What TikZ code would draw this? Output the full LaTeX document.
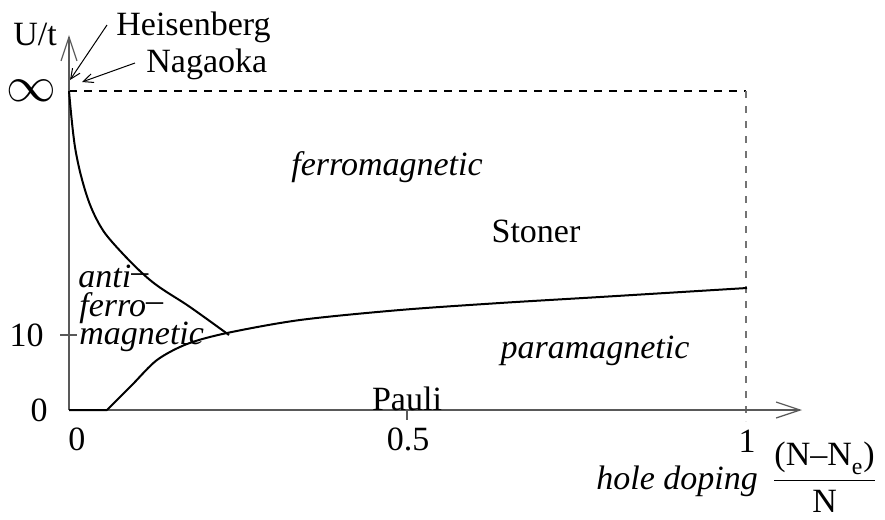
\documentclass[tikz,border=0pt]{standalone}
\usepackage{fontspec}
\usepackage{amsmath}
\setmainfont{Liberation Serif}
\usetikzlibrary{arrows.meta}
\begin{document}
\begin{tikzpicture}[x=0.5pt,y=-0.5pt,
  lbl/.style={font=\fontsize{17}{20}\selectfont, inner sep=0pt},
  ilbl/.style={font=\fontsize{17}{20}\selectfont\itshape, inner sep=0pt},
  axisline/.style={black!65, line width=0.6pt},
  bigtip/.style={-{Straight Barb[length=12pt,width=8pt,line width=0.6pt]}},
  smalltip/.style={-{Straight Barb[length=5pt,width=4.5pt]}, line width=0.5pt},
  curve/.style={black, line width=1pt},
  dashh/.style={black, line width=0.6pt, dash pattern=on 4pt off 3.5pt},
  dashv/.style={black!55, line width=0.7pt, dash pattern=on 3.5pt off 4pt}]
\useasboundingbox (0,0) rectangle (885,520);
% coordinates
\coordinate (O) at (69,410);
\coordinate (ytop) at (69,35);
\coordinate (xend) at (802,410);
\coordinate (inf) at (69,91);
\coordinate (infR) at (746,91);
\coordinate (oneB) at (746,421);
\coordinate (jn) at (228,334);
\coordinate (hT) at (70,80);
\coordinate (nT) at (82,82);
% dashed lines
\draw[dashh] (inf) -- (infR);
\draw[dashv] (infR) -- (oneB);
% axes
\draw[axisline, bigtip] (O) -- (ytop);
\draw[axisline, bigtip] (O) -- (xend);
\coordinate (t10a) at (60,335);
\coordinate (t10b) at (77,335);
\draw[axisline] (t10a) -- (t10b);
\coordinate (t05a) at (407,410);
\coordinate (t05b) at (407,420);
\draw[axisline] (t05a) -- (t05b);
% curves
\draw[curve] plot[smooth, tension=0.6] coordinates {(69,91) (75,147) (85,190) (97,220) (113,243) (150,280) (190,307) (229,335)};
\draw[curve] (O) -- (107,410) plot[smooth, tension=0.5] coordinates {(107,410) (132,385) (157,360) (187,344) (227,333) (300,320) (400,310) (500,303) (600,297) (747,288)};
% labels
\node[lbl, anchor=base west] (Ut) at (13,45) {U/t};
\node[lbl, anchor=base west] (heis) at (116,35) {Heisenberg};
\node[lbl, anchor=base west] (naga) at (146,72) {Nagaoka};
\draw[smalltip] (107,25) -- (hT);
\draw[smalltip] (135,63) -- (nT);
\node[lbl, font=\fontsize{24}{24}\selectfont] (infl) at (31,91) {$\infty$};
\node[lbl, anchor=east] (ten) at (44,335) {10};
\node[lbl, anchor=east] (zero) at (48,410) {0};
\node[lbl, anchor=base] (x0) at (77,450) {0};
\node[lbl, anchor=base] (x05) at (408,450) {0.5};
\node[lbl, anchor=base] (x1) at (747,452) {1};
\node[ilbl, anchor=base] (ferro) at (387,175) {ferromagnetic};
\node[lbl, anchor=base] (stoner) at (536,242) {Stoner};
\node[ilbl, anchor=base] (para) at (595,358) {paramagnetic};
\node[lbl, anchor=base] (pauli) at (407,410) {Pauli};
\node[ilbl, anchor=base west] (af1) at (78,287) {anti\rlap{\upshape\raisebox{0.3ex}{--}}};
\node[ilbl, anchor=base west] (af2) at (79,316) {ferro\upshape\raisebox{0.3ex}{--}};
\node[ilbl, anchor=base west] (af3) at (79,344) {magnetic};
\node[lbl, anchor=base west] (hole) at (596,489) {\itshape hole doping\, \upshape$\dfrac{\text{(N--N}_{\text{e}}\text{)}}{\text{N}}$};
\end{tikzpicture}
\end{document}
